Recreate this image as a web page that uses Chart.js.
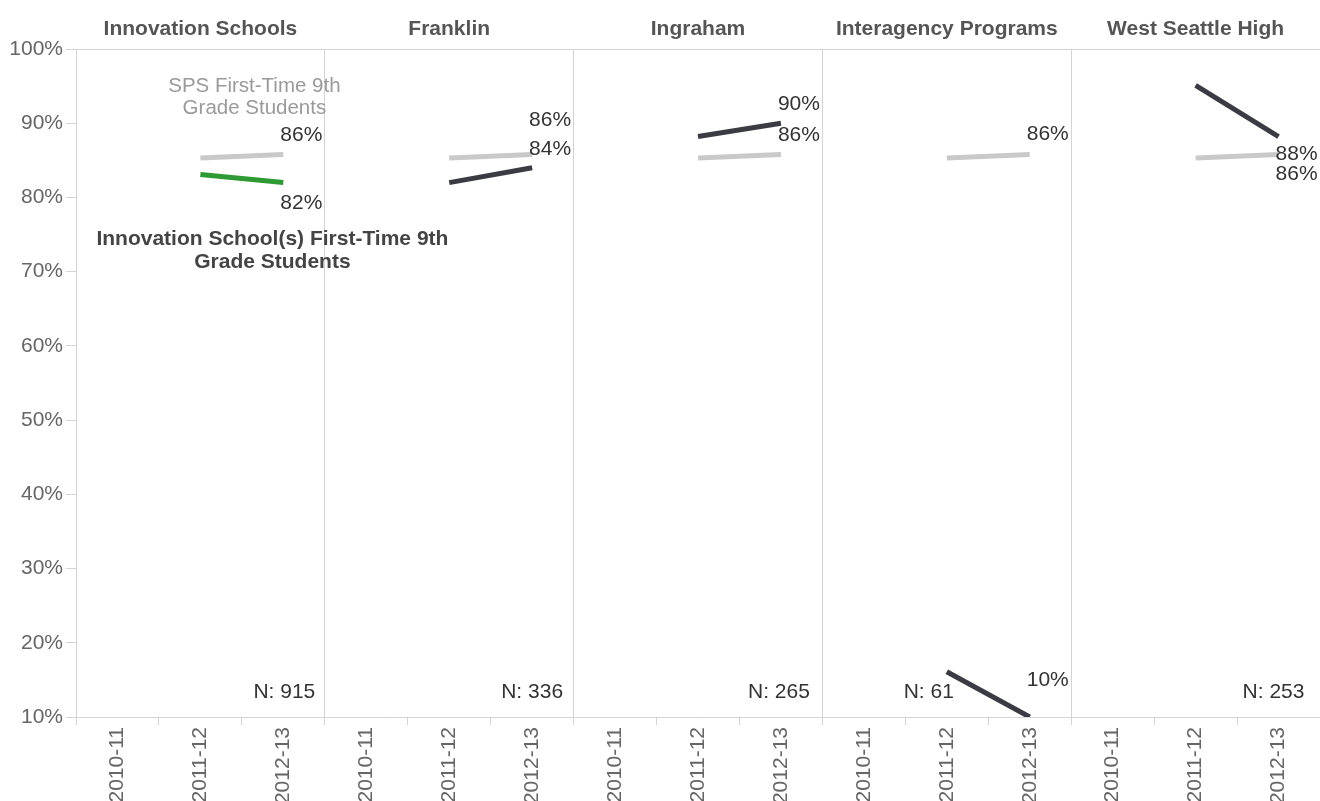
<!DOCTYPE html>
<html><head><meta charset="utf-8">
<script src="https://cdn.jsdelivr.net/npm/chart.js@4.4.1/dist/chart.umd.min.js"></script>
<style>html,body{margin:0;padding:0;background:#fff;overflow:hidden}</style>
</head><body>
<canvas id="c" width="1320" height="801"></canvas>
<script>
// ---- data ----
const panels = ['Innovation Schools', 'Franklin', 'Ingraham', 'Interagency Programs', 'West Seattle High'];
const years = ['2010-11', '2011-12', '2012-13'];
const spsRate = [null, 85.3, 85.8];
const innovationRate = [null, 83.1, 82.0];
const franklinRate = [null, 82.0, 84.0];
const ingrahamRate = [null, 88.2, 90.0];
const interagencyRate = [null, 16.1, 10.0];
const westSeattleRate = [null, 95.1, 88.2];
const nCounts = [915, 336, 265, 61, 253];
const yTickValues = [10, 20, 30, 40, 50, 60, 70, 80, 90, 100];
const spsNote = ['SPS First-Time 9th', 'Grade Students'];
const schoolNote = ['Innovation School(s) First-Time 9th', 'Grade Students'];

const schoolRates = [innovationRate, franklinRate, ingrahamRate, interagencyRate, westSeattleRate];
const xLabels = panels.flatMap(() => years);
function place(arr, p) {
  const out = new Array(xLabels.length).fill(null);
  arr.forEach((v, i) => { out[p * years.length + i] = v; });
  return out;
}

// ---- styles ----
const FONT = '"Liberation Sans", Arial, sans-serif';
Chart.defaults.font.family = FONT;
const GREY_LINE = '#c9c9c9';
const DARK_LINE = '#3b3b44';
const GREEN_LINE = '#2f9a33';
const RULE = '#d4d4d4';
const spsDy = [-19, -34, -19, -20, 20];
const schoolDy = [21, -19, -19, -37, 18];
const labelDx = 18;
const nIndex = [2, 2, 2, 1, 2];
const nDx = [1, 0, -2, -18, -5];

const datasets = [];
panels.forEach((p, i) => {
  datasets.push({
    label: 'SPS ' + p, data: place(spsRate, i), borderColor: GREY_LINE, borderWidth: 5,
    pointRadius: 0, spanGaps: false, borderCapStyle: 'butt', order: 2
  });
  datasets.push({
    label: p, data: place(schoolRates[i], i), borderColor: i === 0 ? GREEN_LINE : DARK_LINE,
    borderWidth: 5, pointRadius: 0, spanGaps: false, borderCapStyle: 'butt', order: 1
  });
});

const overlay = {
  id: 'overlay',
  afterDraw(chart) {
    const ctx = chart.ctx, ca = chart.chartArea;
    const xs = chart.scales.x, ys = chart.scales.y;
    ctx.save();
    // header rule
    ctx.strokeStyle = RULE; ctx.lineWidth = 1;
    ctx.beginPath(); ctx.moveTo(ca.left, ca.top + 0.5); ctx.lineTo(ca.right, ca.top + 0.5); ctx.stroke();
    // headers
    ctx.fillStyle = '#555'; ctx.font = 'bold 21px ' + FONT;
    ctx.textAlign = 'center'; ctx.textBaseline = 'middle';
    panels.forEach((p, i) => {
      ctx.fillText(p, xs.getPixelForValue(i * 3 + 1), 29);
    });
    // value labels
    ctx.font = '21px ' + FONT; ctx.fillStyle = '#333';
    panels.forEach((p, i) => {
      const last = years.length - 1;
      const idx = i * 3 + last;
      const xp = xs.getPixelForValue(idx) + labelDx;
      const sv = spsRate[last], cv = schoolRates[i][last];
      ctx.fillText(Math.round(sv) + '%', xp, ys.getPixelForValue(sv) + spsDy[i]);
      ctx.fillText(Math.round(cv) + '%', xp, ys.getPixelForValue(cv) + schoolDy[i]);
      // N counts
      ctx.fillText('N: ' + nCounts[i], xs.getPixelForValue(i * 3 + nIndex[i]) + nDx[i], ys.getPixelForValue(10) - 25);
    });
    // annotations
    ctx.fillStyle = '#9a9a9a'; ctx.font = '20.5px ' + FONT;
    const ax = xs.getPixelForValue(1) + 54;
    ctx.fillText(spsNote[0], ax, 86);
    ctx.fillText(spsNote[1], ax, 108);
    ctx.fillStyle = '#444'; ctx.font = 'bold 21px ' + FONT;
    const bx = xs.getPixelForValue(1) + 72;
    ctx.fillText(schoolNote[0], bx, 239);
    ctx.fillText(schoolNote[1], bx, 262);
    ctx.restore();
  }
};

new Chart(document.getElementById('c'), {
  type: 'line',
  data: { labels: xLabels, datasets },
  options: {
    responsive: false,
    animation: false,
    layout: { padding: { top: 49, left: 0, right: 0, bottom: 0 } },
    plugins: { legend: { display: false }, tooltip: { enabled: false } },
    scales: {
      x: {
        type: 'category',
        offset: true,
        grid: {
          offset: true,
          color: (c) => (c.index > 0 && c.index % 3 === 0 && c.index < xLabels.length) ? RULE : 'rgba(0,0,0,0)',
          tickColor: RULE,
          tickLength: 8,
          drawOnChartArea: true
        },
        border: { display: true, color: RULE },
        ticks: {
          autoSkip: false, minRotation: 90, maxRotation: 90, padding: 2,
          color: '#666', font: { size: 21 }
        },
        afterFit(scale) { scale.height = 84; }
      },
      y: {
        min: 10, max: 100,
        afterBuildTicks(scale) { scale.ticks = yTickValues.map(v => ({ value: v })); },
        grid: { drawOnChartArea: false, tickLength: 10, tickColor: RULE },
        border: { display: true, color: RULE },
        ticks: { color: '#666', font: { size: 21 }, padding: 3, callback: (v) => v + '%' },
        afterFit(scale) { scale.width = 76; }
      }
    }
  },
  plugins: [overlay]
});
</script>
</body></html>
